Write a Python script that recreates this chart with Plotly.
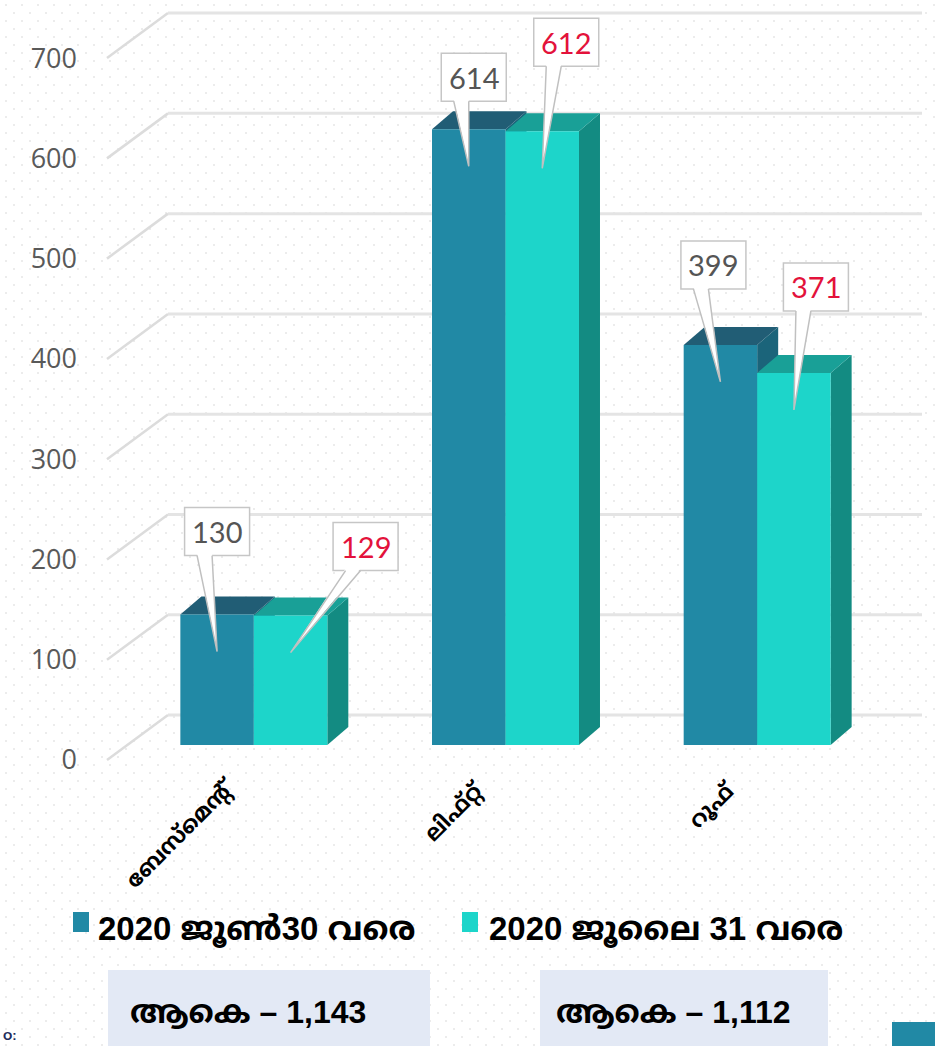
import plotly.graph_objects as go

# ---------------- data ----------------
categories = ["ബേസ്മെന്റ്", "ലിഫ്റ്റ്", "റൂഫ്"]
series_names = ["2020 ജൂൺ30 വരെ", "2020 ജൂലൈ 31 വരെ"]
june_values = [130, 614, 399]
july_values = [129, 612, 371]
y_ticks = [0, 100, 200, 300, 400, 500, 600, 700]
total_label = "ആകെ"

# ---------------- styles ----------------
W, H = 935, 1046
ML, MR, MT, MB = 128, 52, 3, 281
Y_RANGE = [-20, 740]
BARGAP = 0.416
PLOT_W = W - ML - MR
PLOT_H = H - MT - MB
S = PLOT_H / (Y_RANGE[1] - Y_RANGE[0])         # px per y unit
XS = PLOT_W / 3.0                               # px per category
DX = 21 / XS                                    # 3D depth (x, data units)
DY = 18 / S                                     # 3D depth (y, data units)

front_colors = ["#2189a5", "#1dd5ca"]
side_colors = ["#1b647a", "#138b82"]
top_colors = ["#215d75", "#19a097"]
value_colors = ["#555555", "#e3123b"]
# callout box centre offsets (px) relative to the pointer tip
callout_offsets = [
    [(0, -120), (5, -89), (-7, -117)],
    [(75, -106), (24, -126), (22, -123)],
]
BOX_W, BOX_H = 65, 48
TIP_DROP = 37
DOT_STEP = 16

MAL = "Liberation Sans, Noto Sans Malayalam, Noto Sans, sans-serif"


def px(xp):
    return (xp - ML) / PLOT_W


def py(yp):
    return (H - MB - yp) / PLOT_H


fig = go.Figure()
xs = list(range(len(categories)))
for k, (name, vals) in enumerate(zip(series_names, [june_values, july_values])):
    fig.add_trace(go.Bar(
        x=xs, y=vals, name=name,
        marker=dict(color=front_colors[k], line=dict(width=0)),
        showlegend=False, hoverinfo="skip",
    ))

shapes = []
# faint dotted page texture
parts = []
row = 0
yy = 4
while yy < H:
    xx = 5 + (DOT_STEP // 2 if row % 2 else 0)
    while xx < W:
        a, b = px(xx), px(xx + 2)
        c, d = py(yy), py(yy + 2)
        parts.append(f"M{a:.5f},{c:.5f}L{b:.5f},{c:.5f}L{b:.5f},{d:.5f}L{a:.5f},{d:.5f}Z")
        xx += DOT_STEP
    yy += DOT_STEP // 2
    row += 1
shapes.append(dict(type="path", xref="paper", yref="paper", path="".join(parts),
                   fillcolor="#ececec", line=dict(width=0), layer="below"))

# back-wall grid lines with diagonal connectors
for t in y_ticks:
    shapes.append(dict(type="line", xref="paper", yref="y",
                       x0=px(107), y0=t - 15 / S, x1=px(168), y1=t + 30 / S,
                       line=dict(color="#dcdcdc", width=2.5), layer="below"))
    shapes.append(dict(type="line", xref="paper", yref="y",
                       x0=px(168), y0=t + 30 / S, x1=px(922), y1=t + 30 / S,
                       line=dict(color="#e4e4e4", width=3), layer="below"))

bw = (1 - BARGAP) / 2
for i in xs:
    for k, vals in enumerate([june_values, july_values]):
        v = vals[i]
        xl = i - bw + k * bw
        xr = xl + bw
        side = f"M {xr},0 L {xr + DX},{DY} L {xr + DX},{v + DY} L {xr},{v} Z"
        top = f"M {xl},{v} L {xr},{v} L {xr + DX},{v + DY} L {xl + DX},{v + DY} Z"
        shapes.append(dict(type="path", path=side, xref="x", yref="y",
                           fillcolor=side_colors[k], line=dict(width=0), layer="below"))
        shapes.append(dict(type="path", path=top, xref="x", yref="y",
                           fillcolor=top_colors[k], line=dict(width=0), layer="below"))

annotations = []
# value callouts (box + wedge pointer)
for k, vals in enumerate([june_values, july_values]):
    for i, v in enumerate(vals):
        xt = i - bw / 2 + k * bw
        yt = v - TIP_DROP / S
        ax, ay = callout_offsets[k][i]
        cx = xt + ax / XS
        cy = yt - ay / S
        hw, hh = BOX_W / 2 / XS, BOX_H / 2 / S
        shapes.append(dict(type="rect", xref="x", yref="y",
                           x0=cx - hw, x1=cx + hw, y0=cy - hh, y1=cy + hh,
                           fillcolor="white", line=dict(color="#c6c6c6", width=1.5),
                           layer="above"))
        bx0 = cx - 20 / XS
        bx1 = cx - 5 / XS
        by = cy - hh
        byin = by + 2 / S
        shapes.append(dict(type="path", xref="x", yref="y",
                           path=f"M {bx0},{byin} L {bx1},{byin} L {xt},{yt} Z",
                           fillcolor="white", line=dict(width=0), layer="above"))
        shapes.append(dict(type="path", xref="x", yref="y",
                           path=f"M {bx0},{by} L {xt},{yt} L {bx1},{by}",
                           line=dict(color="#c0c0c0", width=1.5), layer="above"))
        annotations.append(dict(
            x=cx, y=cy, xref="x", yref="y", text=str(v), showarrow=False,
            xanchor="center", yanchor="middle",
            font=dict(family="Lato, Open Sans, sans-serif", size=29, color=value_colors[k]),
        ))

# totals boxes
shapes.append(dict(type="rect", xref="paper", yref="paper",
                   x0=px(108), x1=px(430), y0=py(1046), y1=py(970),
                   fillcolor="#e3e9f5", line=dict(width=0)))
shapes.append(dict(type="rect", xref="paper", yref="paper",
                   x0=px(540), x1=px(828), y0=py(1046), y1=py(970),
                   fillcolor="#e3e9f5", line=dict(width=0)))
# legend swatches
shapes.append(dict(type="rect", xref="paper", yref="paper",
                   x0=px(73), x1=px(89), y0=py(932), y1=py(912),
                   fillcolor=front_colors[0], line=dict(width=0)))
shapes.append(dict(type="rect", xref="paper", yref="paper",
                   x0=px(462), x1=px(478), y0=py(932), y1=py(912),
                   fillcolor=front_colors[1], line=dict(width=0)))
# corner decoration
shapes.append(dict(type="rect", xref="paper", yref="paper",
                   x0=px(892), x1=px(935), y0=py(1046), y1=py(1022),
                   fillcolor="#2189a5", line=dict(width=0)))

# legend texts
annotations.append(dict(xref="paper", yref="paper", x=px(96), y=py(929),
                        xanchor="left", yanchor="middle", showarrow=False,
                        text="<b>" + series_names[0] + "</b>",
                        font=dict(family=MAL, size=33, color="black")))
annotations.append(dict(xref="paper", yref="paper", x=px(487), y=py(929),
                        xanchor="left", yanchor="middle", showarrow=False,
                        text="<b>" + series_names[1] + "</b>",
                        font=dict(family=MAL, size=33, color="black")))
# totals
annotations.append(dict(xref="paper", yref="paper", x=px(248), y=py(1012),
                        xanchor="center", yanchor="middle", showarrow=False,
                        text=f"<b>{total_label} – {sum(june_values):,}</b>",
                        font=dict(family=MAL, size=32, color="black")))
annotations.append(dict(xref="paper", yref="paper", x=px(673), y=py(1012),
                        xanchor="center", yanchor="middle", showarrow=False,
                        text=f"<b>{total_label} – {sum(july_values):,}</b>",
                        font=dict(family=MAL, size=32, color="black")))
# small fragment at bottom-left corner
annotations.append(dict(xref="paper", yref="paper", x=px(1), y=py(1045),
                        xanchor="left", yanchor="bottom", showarrow=False,
                        text="<b>ഠ:</b>",
                        font=dict(family=MAL, size=13, color="#1f2d5c")))

fig.update_layout(
    width=W, height=H,
    margin=dict(l=ML, r=MR, t=MT, b=MB),
    paper_bgcolor="white", plot_bgcolor="rgba(0,0,0,0)",
    barmode="group", bargap=BARGAP, bargroupgap=0,
    shapes=shapes, annotations=annotations,
    showlegend=False,
    xaxis=dict(range=[-0.5, 2.5], tickvals=xs, ticktext=categories,
               tickangle=-45, showgrid=False, zeroline=False, showline=False,
               ticks="", ticklabelshift=-30, ticklabelstandoff=8, automargin=False,
               tickfont=dict(family="Noto Sans Malayalam, Noto Sans, sans-serif",
                             size=22, color="black", weight="bold")),
    yaxis=dict(range=Y_RANGE, tickvals=y_ticks, showgrid=False, zeroline=False,
               showline=False, ticks="", ticklabelstandoff=50, ticklabelshift=15,
               automargin=False,
               tickfont=dict(family="Open Sans, sans-serif", size=27, color="#595959")),
)

fig.write_html("out.html", config={"displayModeBar": False},
               post_script="document.body.style.margin='0';")
